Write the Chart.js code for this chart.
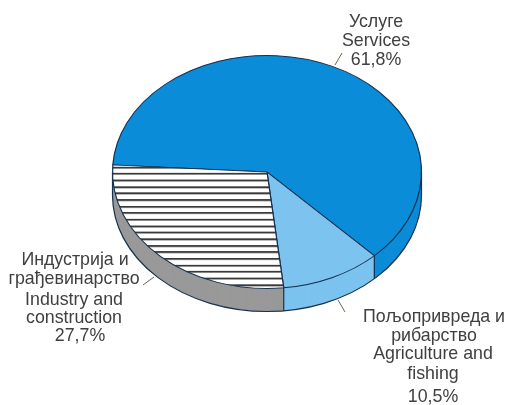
<!DOCTYPE html>
<html>
<head>
<meta charset="utf-8">
<style>
	html, body { margin: 0; padding: 0; background: #fff; }
	#wrap { position: relative; width: 506px; height: 405px; overflow: hidden; }
	#pie { position: absolute; left: 0; top: 0; }
	.lbl {
		position: absolute;
		transform: translate(-50%, -50%);
		white-space: nowrap;
		font-family: "Liberation Sans", Arial, sans-serif;
		font-size: 17.8px;
		color: #404040;
	}
</style>
</head>
<body>
<div id="wrap"><canvas id="pie" width="506" height="405"></canvas></div>
<script src="https://cdn.jsdelivr.net/npm/chart.js@4"></script>
<script>
const categories = ["Услуге / Services", "Пољопривреда и рибарство / Agriculture and fishing", "Индустрија и грађевинарство / Industry and construction"];
const shares = [61.8, 10.5, 27.7];
const topColors = ["#0a8cd8", "#7cc3ef", null];
const wallColors = ["#0a8cd8", "#7cc3ef", "#999999"];

const labelLines = [
	["Услуге", 376, 21], ["Services", 376, 40], ["61,8%", 376, 59],
	["Индустрија и", 75, 259], ["грађевинарство", 74, 278], ["Industry and", 74, 299], ["construction", 74, 317], ["27,7%", 80, 335],
	["Пољопривреда и", 434, 316], ["рибарство", 434, 335], ["Agriculture and", 433, 353], ["fishing", 433, 373], ["10,5%", 433, 396]
];
const leaders = [
	[335, 65, 342, 53],
	[143, 285, 154, 277],
	[338, 300, 345, 312]
];

const centerX = 267;
const centerY = 172;
const radius = 154.5;
const squash = 0.754;
const depth = 23;
const edge = "#16324f";

const wrap = document.getElementById("wrap");
labelLines.forEach(([text, x, y]) => {
	const el = document.createElement("div");
	el.className = "lbl";
	el.textContent = text;
	el.style.left = x + "px";
	el.style.top = y + "px";
	wrap.appendChild(el);
});

// horizontal stripes for the industry slice
const makeStripes = () => {
	const c = document.createElement("canvas");
	c.width = 4;
	c.height = 26;
	const g = c.getContext("2d");
	g.fillStyle = "#fff";
	g.fillRect(0, 0, 4, 26);
	[0, 9, 17].forEach((y) => {
		g.fillStyle = "#3a3a3a";
		g.fillRect(0, y, 4, 2);
		g.fillStyle = "#a0a0a0";
		g.fillRect(0, y + 2, 4, 1);
	});
	return g.createPattern(c, "repeat");
};

const squashed = (ctx, dy) => {
	ctx.translate(centerX, centerY + dy);
	ctx.scale(1, squash);
	ctx.translate(-centerX, -centerY);
};

const tiltPlugin = {
	id: "tilt",
	beforeDatasetsDraw(chart) {
		const ctx = chart.ctx;
		const arcs = chart.getDatasetMeta(0).data;
		// side wall of the disc, built from the arcs the library laid out
		for (let d = depth; d > 0; d--) {
			arcs.forEach((arc, i) => {
				ctx.save();
				squashed(ctx, d);
				ctx.fillStyle = wallColors[i];
				ctx.beginPath();
				ctx.moveTo(arc.x, arc.y);
				ctx.arc(arc.x, arc.y, arc.outerRadius, arc.startAngle, arc.endAngle);
				ctx.closePath();
				ctx.fill();
				ctx.restore();
			});
		}
		// bottom rim
		ctx.save();
		squashed(ctx, depth);
		ctx.beginPath();
		ctx.arc(arcs[0].x, arcs[0].y, arcs[0].outerRadius, 0, Math.PI);
		ctx.restore();
		ctx.strokeStyle = edge;
		ctx.lineWidth = 1.2;
		ctx.stroke();
		// vertical edges where the visible slices meet
		[arcs[1].startAngle, arcs[1].endAngle, 0, Math.PI].forEach((a) => {
			const x = arcs[0].x + arcs[0].outerRadius * Math.cos(a);
			const y = centerY + arcs[0].outerRadius * squash * Math.sin(a);
			ctx.beginPath();
			ctx.moveTo(x, y);
			ctx.lineTo(x, y + depth);
			ctx.stroke();
		});
		ctx.save();
		squashed(ctx, 0);
	},
	afterDatasetsDraw(chart) {
		const ctx = chart.ctx;
		ctx.restore();
		ctx.strokeStyle = "#6b6350";
		ctx.lineWidth = 1;
		leaders.forEach(([x1, y1, x2, y2]) => {
			ctx.beginPath();
			ctx.moveTo(x1, y1);
			ctx.lineTo(x2, y2);
			ctx.stroke();
		});
	}
};

new Chart(document.getElementById("pie"), {
	type: "pie",
	data: {
		labels: categories,
		datasets: [{
			data: shares,
			backgroundColor: topColors.map((c) => c || makeStripes()),
			borderColor: edge,
			borderWidth: 1.2
		}]
	},
	options: {
		responsive: false,
		animation: false,
		rotation: 273.5,
		radius: radius,
		layout: { padding: { left: centerX * 2 - 506, bottom: 405 - centerY * 2 } },
		plugins: { legend: { display: false }, tooltip: { enabled: false } }
	},
	plugins: [tiltPlugin]
});
</script>
</body>
</html>
